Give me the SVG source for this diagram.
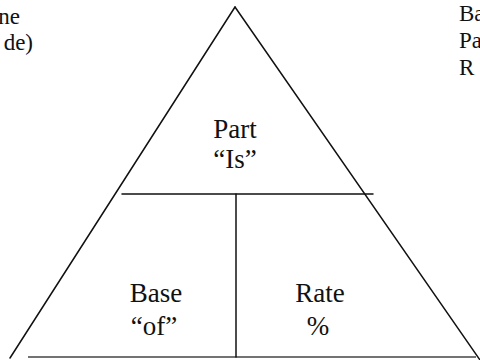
<svg xmlns="http://www.w3.org/2000/svg" width="480" height="360" viewBox="0 0 480 360">
<style>
.t{font-family:'Liberation Serif','Times New Roman',serif;fill:#111;}
.big{font-size:27px;}
.side{font-size:23px;}
.ln{stroke:#111;stroke-width:1.5;fill:none;stroke-linecap:round;}
</style>
<rect width="480" height="360" fill="#fff"/>
<g id="side-text-left">
<text class="t side" x="20" y="24" text-anchor="end">ne</text>
<text class="t side" x="33" y="50" text-anchor="end">de)</text>
</g>
<g id="side-text-right">
<text class="t side" x="459" y="21">Ba</text>
<text class="t side" x="459" y="48">Pa</text>
<text class="t side" x="459" y="75">R</text>
</g>
<g id="connectors">
<path class="ln" d="M235,7 L10,358"/>
<path class="ln" d="M235,7 L480,360"/>
<path d="M28,357 L476,357" stroke="#444" stroke-width="1.5"/>
<path class="ln" d="M122,194 L373,194"/>
<path class="ln" d="M236,194 L236,357"/>
</g>
<g id="part">
<text class="t big" x="235" y="138" text-anchor="middle">Part</text>
<text class="t big" x="235" y="168" text-anchor="middle">“Is”</text>
</g>
<g id="base">
<text class="t big" x="156" y="302" text-anchor="middle">Base</text>
<text class="t big" x="154" y="335" text-anchor="middle">“of”</text>
</g>
<g id="rate">
<text class="t big" x="320" y="302" text-anchor="middle">Rate</text>
<text class="t big" x="318" y="335" text-anchor="middle">%</text>
</g>
</svg>
